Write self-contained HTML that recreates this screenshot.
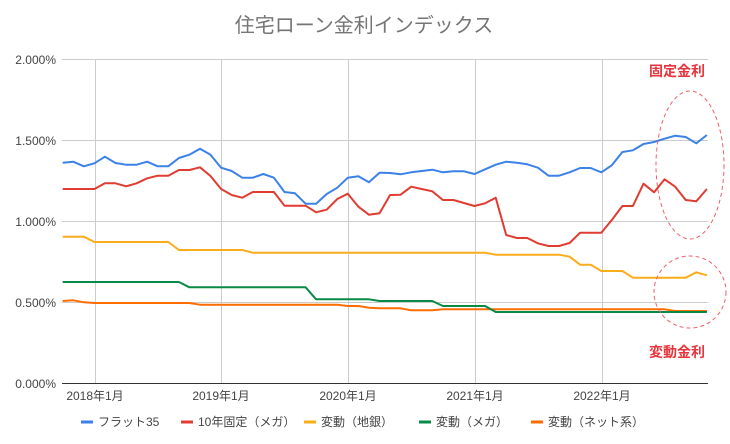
<!DOCTYPE html>
<html><head><meta charset="utf-8"><style>
html,body{margin:0;padding:0;background:#fff;}
svg{display:block;font-family:"Liberation Sans","Noto Sans CJK JP",sans-serif;}
</style></head><body>
<svg width="730" height="444" viewBox="0 0 730 444" xmlns="http://www.w3.org/2000/svg">
<rect width="730" height="444" fill="#fff"/>
<text x="364" y="32" text-anchor="middle" font-size="20" fill="#757575">住宅ローン金利インデックス</text>
<g stroke="#cccccc" stroke-width="1">
<line x1="62" y1="59.5" x2="708" y2="59.5"/>
<line x1="62" y1="140.5" x2="708" y2="140.5"/>
<line x1="62" y1="221.5" x2="708" y2="221.5"/>
<line x1="62" y1="302.5" x2="708" y2="302.5"/>
<line x1="95.5" y1="59" x2="95.5" y2="383"/>
<line x1="221.5" y1="59" x2="221.5" y2="383"/>
<line x1="348.5" y1="59" x2="348.5" y2="383"/>
<line x1="475.5" y1="59" x2="475.5" y2="383"/>
<line x1="602.5" y1="59" x2="602.5" y2="383"/>
</g>
<line x1="62" y1="383.5" x2="708" y2="383.5" stroke="#333" stroke-width="1"/>
<g font-size="12" fill="#444" text-anchor="end">
<text x="56" y="64">2.000%</text>
<text x="56" y="145">1.500%</text>
<text x="56" y="226">1.000%</text>
<text x="56" y="307">0.500%</text>
<text x="56" y="388">0.000%</text>
</g>
<g font-size="12" fill="#444" text-anchor="middle">
<text x="95" y="400">2018年1月</text>
<text x="221" y="400">2019年1月</text>
<text x="348" y="400">2020年1月</text>
<text x="475" y="400">2021年1月</text>
<text x="602" y="400">2022年1月</text>
</g>
<g fill="none" stroke-width="2" stroke-linejoin="round">
<polyline stroke="#ff6d01" points="62.7,301 73.3,300.3 83.8,302.3 94.4,303 189.4,303 200,304.7 337.3,304.7 347.8,306 358.4,306 368.9,307.7 379.5,308.3 400.6,308.3 411.2,310.3 432.3,310.3 442.9,309.3 664.6,309.3 675.2,311 706.9,311"/>
<polyline stroke="#0a8a47" points="62.7,282 178.9,282 189.4,287.3 305.6,287.3 316.1,299.3 368.9,299.3 379.5,301 432.3,301 442.9,306 485.1,306 495.7,312 706.9,312"/>
<polyline stroke="#fbac1b" points="62.7,236.7 83.8,236.7 94.4,242 168.3,242 178.9,250 242.2,250 252.8,252.7 485.1,252.7 495.7,254.7 559,254.7 569.6,256.7 580.1,264.7 590.7,264.7 601.3,271 622.4,271 632.9,277.7 685.7,277.7 696.3,272.3 706.9,275.3"/>
<polyline stroke="#e03c31" points="62.7,189 73.3,189 83.8,189 94.4,189 104.9,183.3 115.5,183.3 126.1,186.3 136.6,183.3 147.2,178.3 157.7,175.7 168.3,175.7 178.9,170 189.4,170 200,167.3 210.5,176 221.1,189 231.7,195 242.2,197.7 252.8,192 263.3,192 273.9,192 284.5,205.7 295,205.7 305.6,205.7 316.1,212.3 326.7,209.7 337.3,199 347.8,193.7 358.4,206.7 368.9,214.7 379.5,213.3 390.1,195 400.6,194.7 411.2,186.7 421.7,189 432.3,191.3 442.9,200 453.4,200 464,203 474.5,206 485.1,203.3 495.7,197.7 506.2,235 516.8,238 527.3,238 537.9,243.3 548.5,246 559,246 569.6,243 580.1,232.7 590.7,232.7 601.3,232.7 611.8,220 622.4,206 632.9,206 643.5,183.7 654.1,192.3 664.6,179.3 675.2,186.7 685.7,200 696.3,201.3 706.9,189"/>
<polyline stroke="#3b82e8" points="62.7,162.7 73.3,161.7 83.8,166.3 94.4,163.3 104.9,156.7 115.5,163 126.1,164.7 136.6,164.7 147.2,161.7 157.7,166.3 168.3,166.3 178.9,158 189.4,154.7 200,148.7 210.5,154.7 221.1,167.7 231.7,171 242.2,177.7 252.8,177.7 263.3,174 273.9,177.7 284.5,192 295,193.3 305.6,203.7 316.1,203.7 326.7,194 337.3,187.7 347.8,177.7 358.4,176.3 368.9,182.3 379.5,172.7 390.1,173 400.6,174.3 411.2,172.3 421.7,171 432.3,169.7 442.9,172.3 453.4,171.3 464,171.3 474.5,174 485.1,169.3 495.7,164.7 506.2,161.7 516.8,162.7 527.3,164.3 537.9,167.7 548.5,175.7 559,175.7 569.6,172.3 580.1,168 590.7,168 601.3,172.3 611.8,165.3 622.4,152 632.9,150.3 643.5,144 654.1,142 664.6,138.7 675.2,135.7 685.7,137 696.3,143.3 706.9,135"/>
</g>
<g fill="none" stroke="#f0606a" stroke-width="1" stroke-dasharray="4,3">
<ellipse cx="690" cy="165" rx="34" ry="74"/>
<circle cx="690" cy="292" r="36"/>
</g>
<text x="677" y="76" text-anchor="middle" font-size="14" font-weight="bold" fill="#e8343c">固定金利</text>
<text x="677" y="357" text-anchor="middle" font-size="14" font-weight="bold" fill="#e8343c">変動金利</text>
<g font-size="12" fill="#444">
<line x1="81" y1="422" x2="93" y2="422" stroke="#3b82e8" stroke-width="3"/>
<text x="98" y="426">フラット35</text>
<line x1="181" y1="422" x2="193" y2="422" stroke="#e03c31" stroke-width="3"/>
<text x="198" y="426">10年固定（メガ）</text>
<line x1="304" y1="422" x2="316" y2="422" stroke="#fbac1b" stroke-width="3"/>
<text x="321" y="426">変動（地銀）</text>
<line x1="419" y1="422" x2="431" y2="422" stroke="#0a8a47" stroke-width="3"/>
<text x="436" y="426">変動（メガ）</text>
<line x1="531" y1="422" x2="543" y2="422" stroke="#ff6d01" stroke-width="3"/>
<text x="548" y="426">変動（ネット系）</text>
</g>
</svg>
</body></html>
